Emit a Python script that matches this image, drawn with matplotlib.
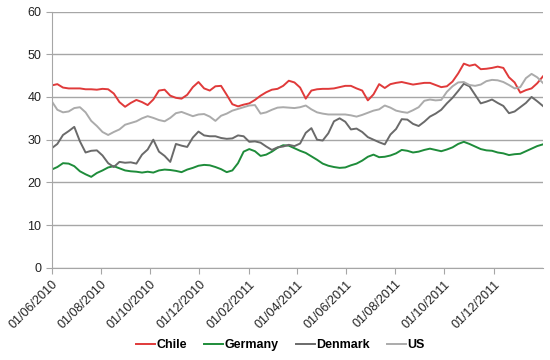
import matplotlib
matplotlib.use("Agg")
import matplotlib.pyplot as plt
import matplotlib.dates as mdates
import numpy as np
import pandas as pd

# weekly readings, starting 01/06/2010
dates = pd.date_range("2010-06-01", periods=88, freq="7D")

chile = [
    42.7, 43.0, 42.2, 42.0, 42.0, 42.0, 41.8, 41.8, 41.7, 41.9,
    41.8, 40.8, 38.8, 37.7, 38.6, 39.3, 38.8, 38.1, 39.4, 41.5,
    41.7, 40.3, 39.8, 39.6, 40.5, 42.3, 43.5, 42.0, 41.5, 42.5,
    42.6, 40.5, 38.3, 37.8, 38.2, 38.5, 39.3, 40.3, 41.1, 41.7,
    41.9, 42.6, 43.8, 43.4, 42.2, 39.6, 41.5, 41.8, 41.9, 41.9,
    42.0, 42.3, 42.6, 42.6, 42.0, 41.5, 39.2, 40.6, 43.0, 42.1,
    43.0, 43.3, 43.5, 43.2, 42.9, 43.1, 43.3, 43.3, 42.8, 42.3,
    42.5, 43.6, 45.5, 47.8, 47.3, 47.6, 46.5, 46.6, 46.8, 47.1,
    46.8, 44.6, 43.4, 41.0, 41.6, 42.0, 43.2, 44.8,
]
germany = [
    23.0, 23.6, 24.5, 24.4, 23.8, 22.6, 21.9, 21.3, 22.2, 22.8,
    23.5, 23.8, 23.3, 22.8, 22.6, 22.5, 22.3, 22.5, 22.3, 22.8,
    23.0, 22.9, 22.7, 22.4, 23.0, 23.4, 23.9, 24.1, 24.0, 23.6,
    23.1, 22.4, 22.8, 24.5, 27.2, 27.8, 27.3, 26.2, 26.5, 27.2,
    28.1, 28.7, 28.6, 28.0, 27.4, 26.9, 26.1, 25.3, 24.4, 23.9,
    23.6, 23.4, 23.5, 24.0, 24.4, 25.1, 26.0, 26.5, 25.9, 26.0,
    26.3, 26.8, 27.6, 27.4, 27.0, 27.2, 27.6, 27.9, 27.6, 27.3,
    27.7, 28.2, 29.0, 29.5, 29.0, 28.4, 27.8, 27.5, 27.4, 27.0,
    26.8, 26.4, 26.6, 26.7, 27.3, 27.9, 28.5, 28.9,
]
denmark = [
    28.0, 29.0, 31.1, 32.0, 33.0, 29.6, 27.0, 27.4, 27.5, 26.3,
    24.5, 23.6, 24.8, 24.6, 24.7, 24.4, 26.5, 27.7, 30.0, 27.2,
    26.2, 24.8, 29.0, 28.6, 28.3, 30.5, 31.9, 31.0, 30.8, 30.8,
    30.4, 30.2, 30.3, 31.0, 30.8, 29.5, 29.6, 29.3, 28.4, 27.6,
    28.2, 28.4, 28.8, 28.5, 29.1, 31.6, 32.7, 30.0, 29.8, 31.5,
    34.3, 35.0, 34.2, 32.4, 32.6, 31.8, 30.6, 30.0, 29.4, 28.9,
    31.2, 32.5, 34.8, 34.7, 33.7, 33.2, 34.2, 35.4, 36.1, 37.0,
    38.5, 39.8, 41.4, 43.1, 42.5, 40.5, 38.5, 38.9, 39.4, 38.6,
    37.9, 36.2, 36.6, 37.6, 38.6, 40.0, 39.0, 37.9,
]
us = [
    39.0, 37.0, 36.4, 36.6, 37.4, 37.6, 36.4, 34.4, 33.2, 31.8,
    31.1, 31.8, 32.4, 33.5, 33.9, 34.3, 35.0, 35.5, 35.1, 34.6,
    34.3, 35.1, 36.2, 36.5, 36.0, 35.5, 35.9, 36.0, 35.4, 34.4,
    35.6, 36.1, 36.8, 37.2, 37.6, 38.0, 38.1, 36.1, 36.4, 37.0,
    37.5, 37.6, 37.5, 37.4, 37.6, 38.0, 37.1, 36.4, 36.1, 35.9,
    35.9, 35.9, 35.9, 35.7, 35.4, 35.8, 36.3, 36.8, 37.1, 38.0,
    37.5, 36.8, 36.5, 36.3, 36.9, 37.6, 39.1, 39.4, 39.2, 39.3,
    41.2, 42.5, 43.4, 43.5, 42.8, 42.6, 42.9, 43.7, 44.0, 43.9,
    43.5, 42.8, 42.0, 42.3, 44.4, 45.4, 44.6, 43.3,
]

series = [
    ("Chile", chile, "#e03a3a"),
    ("Germany", germany, "#1e8c3a"),
    ("Denmark", denmark, "#6a6a6a"),
    ("US", us, "#ababab"),
]

plt.rcParams["font.family"] = ["Liberation Sans", "DejaVu Sans"]

fig = plt.figure(figsize=(5.5, 3.6), dpi=100)
ax = fig.add_axes([0.094, 0.256, 0.893, 0.712])

for name, vals, color in series:
    ax.plot(dates, vals, color=color, lw=1.4, label=name)

ax.set_ylim(0, 60)
ax.set_yticks(range(0, 61, 10))
ax.set_xlim(pd.Timestamp("2010-06-01"), pd.Timestamp("2012-01-31"))

tick_dates = pd.date_range("2010-06-01", "2011-12-01", freq="2MS")
ax.set_xticks(tick_dates)
ax.xaxis.set_major_formatter(mdates.DateFormatter("%d/%m/%Y"))
plt.setp(ax.get_xticklabels(), rotation=45, ha="right", rotation_mode="anchor")

ax.grid(axis="y", color="#a6a6a6", lw=1)
ax.set_axisbelow(True)
for s in ["top", "right"]:
    ax.spines[s].set_visible(False)
for s in ["left", "bottom"]:
    ax.spines[s].set_color("#a6a6a6")
ax.tick_params(axis="both", colors="#a6a6a6", labelcolor="#222222", labelsize=9, length=4)

leg = fig.legend(loc="center", bbox_to_anchor=(0.51, 0.042), ncol=4, frameon=False,
                 handlelength=1.5, handletextpad=0.1, columnspacing=1.4,
                 prop={"weight": "bold", "size": 9})

fig.savefig("out.png", dpi=100)
